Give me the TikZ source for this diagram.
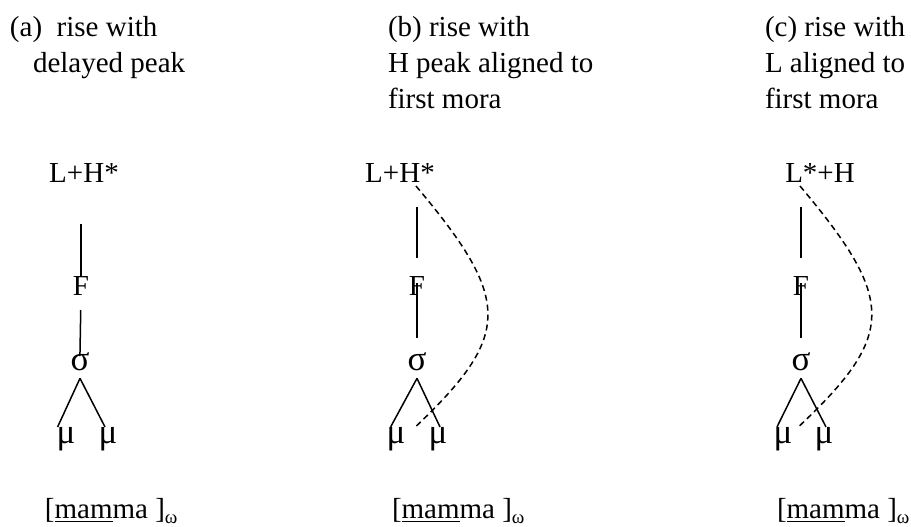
\documentclass[tikz,border=0pt]{standalone}
\usepackage{fontspec}
\setmainfont{Liberation Serif}
\usepackage{tikz}
\usetikzlibrary{positioning}

\newcommand{\wordlabel}{[\underline{mam}ma ]\raisebox{-2.5pt}{\fontsize{9.5}{9.5}\selectfont ω}}

\begin{document}
\begin{tikzpicture}[
	x=0.5pt, y=-0.5pt,
	every node/.style = {inner sep=0pt, outer sep=0pt,
		font=\fontsize{14.5}{18}\selectfont},
	title/.style = {anchor=base west},
	tone/.style = {anchor=base},
	unit/.style = {anchor=base},
	greek/.style = {anchor=base, font=\fontsize{17.5}{18}\selectfont},
	link/.style = {line width=0.75pt},
	align link/.style = {line width=0.75pt, dash pattern=on 3pt off 2pt}
	]

	\useasboundingbox (0,0) rectangle (911,526);

	% (a) delayed peak
	\node[title] (ta1) at (10,36) {(a)\ \ rise with};
	\node[title] (ta2) at (33,72) {delayed peak};
	\node[tone] (lhA) at (84,182) {L+H*};
	\node[unit] (fA) at (81,295) {F};
	\node[greek] (sA) at (80,370) {σ};
	\node[greek] (mA1) at (66,443) {μ};
	\node[greek] (mA2) at (108,443) {μ};
	\node[title] (wA) at (45,518) {\wordlabel};

	\draw[link, shorten <=21pt] (lhA.south -| fA.north) -- (fA.north);
	\draw[link, shorten <=7.5pt, shorten >=-2pt] (fA.south) -- (sA.north);
	\draw[link] ([yshift=-4pt]sA.south) -- ([xshift=0.5pt]mA1.north west);
	\draw[link] ([yshift=-4pt]sA.south) -- ([xshift=-1.5pt]mA2.north);

	% (b) H peak on first mora
	\node[title] (tb1) at (388,36) {(b) rise with};
	\node[title] (tb2) at (388,72) {H peak aligned to};
	\node[title] (tb3) at (388,108) {first mora};
	\node[tone] (lhB) at (400,182) {L+H*};
	\node[unit] (fB) at (417,295) {F};
	\node[greek] (sB) at (417,370) {σ};
	\node[greek] (mB1) at (396,443) {μ};
	\node[greek] (mB2) at (438,443) {μ};
	\node[title] (wB) at (392,518) {\wordlabel};

	\draw[link, shorten <=12.5pt, shorten >=9pt] (lhB.south -| fB.north) -- (fB.north);
	\draw[link, shorten <=-6pt, shorten >=7pt] (fB.south) -- (sB.north);
	\draw[link] ([yshift=-4pt]sB.south) -- ([xshift=2pt]mB1.north west);
	\draw[link] ([yshift=-4pt]sB.south) -- ([xshift=1pt]mB2.north);
	\draw[align link] ([xshift=8pt,yshift=-2pt]lhB.south)
		.. controls (512,300) and (512,335) .. ([xshift=5pt]mB1.north east);

	% (c) L on first mora
	\node[title] (tc1) at (765,36) {(c) rise with};
	\node[title] (tc2) at (765,72) {L aligned to};
	\node[title] (tc3) at (765,108) {first mora};
	\node[tone] (lhC) at (820,182) {L*+H};
	\node[unit] (fC) at (801,295) {F};
	\node[greek] (sC) at (801,370) {σ};
	\node[greek] (mC1) at (783,443) {μ};
	\node[greek] (mC2) at (824,443) {μ};
	\node[title] (wC) at (777,518) {\wordlabel};

	\draw[link, shorten <=12.5pt, shorten >=9pt] (lhC.south -| fC.north) -- (fC.north);
	\draw[link, shorten <=-6pt, shorten >=7pt] (fC.south) -- (sC.north);
	\draw[link] ([yshift=-4pt]sC.south) -- ([xshift=-3pt]mC1.north);
	\draw[link] ([yshift=-4pt]sC.south) -- ([xshift=1pt]mC2.north);
	\draw[align link] ([xshift=-10pt,yshift=-2pt]lhC.south)
		.. controls (896,300) and (896,335) .. ([xshift=3pt]mC1.north east);
\end{tikzpicture}
\end{document}
